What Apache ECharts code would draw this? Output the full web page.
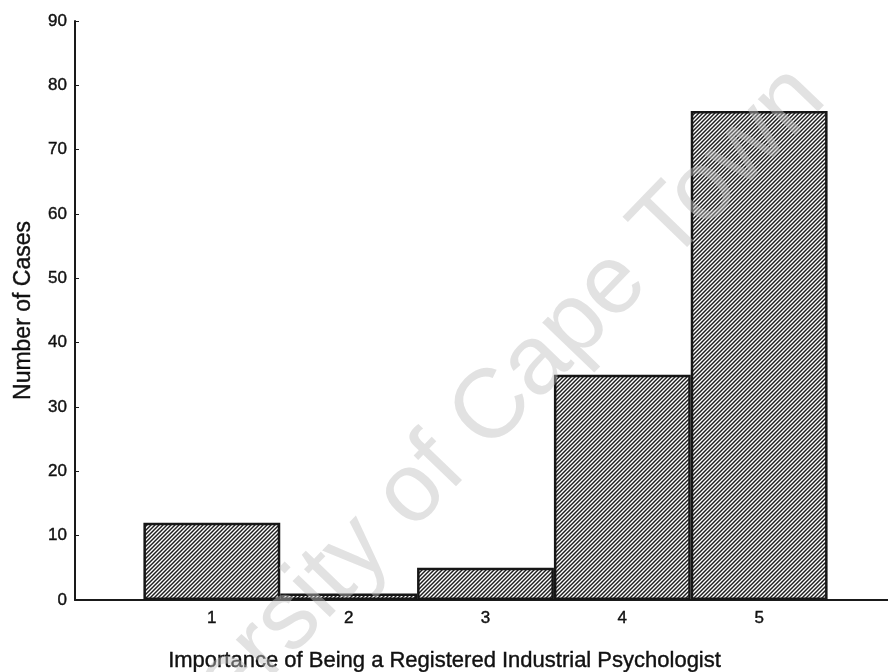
<!DOCTYPE html>
<html>
<head>
<meta charset="utf-8">
<script src="https://cdn.jsdelivr.net/npm/echarts@6/dist/echarts.min.js"></script>
<style>
html,body{margin:0;padding:0;background:#fff;}
#chart{width:888px;height:672px;}
</style>
</head>
<body>
<div id="chart"></div>
<script>
// Data
var categories = ['1', '2', '3', '4', '5'];
var counts = [12, 1, 5, 35, 76];
var yTicks = [0, 10, 20, 30, 40, 50, 60, 70, 80, 90];
var xTitle = 'Importance of Being a Registered Industrial Psychologist';
var yTitle = 'Number of Cases';
var watermark = 'University of Cape Town';

// padded axis: empty slot at each end so bars sit at 1..5 on a 0..6 scale
var axisCats = [''].concat(categories).concat(['']);
var seriesData = ['-'].concat(counts).concat(['-']);

function hatch() {
  var c = document.createElement('canvas');
  c.width = 4; c.height = 4;
  var g = c.getContext('2d');
  g.fillStyle = '#ffffff';
  g.fillRect(0, 0, 4, 4);
  g.strokeStyle = '#1e1e1e';
  g.lineWidth = 1.45;
  g.beginPath();
  g.moveTo(-1, 5); g.lineTo(5, -1);
  g.moveTo(-1, 1); g.lineTo(1, -1);
  g.moveTo(3, 5); g.lineTo(5, 3);
  g.stroke();
  return c;
}

var chart = echarts.init(document.getElementById('chart'), null, {renderer: 'canvas'});
var font = 'Liberation Sans, Arial, sans-serif';
var ink = '#111111';
chart.setOption({
  animation: false,
  backgroundColor: '#ffffff',
  grid: {left: 75, right: -8, top: 21, bottom: 72, containLabel: false, outerBoundsMode: 'none'},
  xAxis: {
    type: 'category',
    data: axisCats,
    boundaryGap: false,
    name: xTitle,
    nameLocation: 'middle',
    nameGap: 50,
    nameTextStyle: {fontFamily: font, fontSize: 22, color: ink,
      textBorderColor: ink, textBorderWidth: 0.4, padding: [0, 82, 0, 0]},
    axisLine: {lineStyle: {color: '#1a1a1a', width: 2}},
    axisTick: {inside: true, length: 4, lineStyle: {color: '#1a1a1a'},
      interval: function (i) { return i > 0 && i < axisCats.length - 1; }},
    axisLabel: {fontFamily: font, fontSize: 17, color: ink, margin: 10,
      textBorderColor: ink, textBorderWidth: 0.4, interval: 0},
    splitLine: {show: false}
  },
  yAxis: {
    type: 'value',
    min: yTicks[0],
    max: yTicks[yTicks.length - 1],
    interval: yTicks[1] - yTicks[0],
    name: yTitle,
    nameLocation: 'middle',
    nameGap: 40,
    nameTextStyle: {fontFamily: font, fontSize: 23, color: ink,
      textBorderColor: ink, textBorderWidth: 0.4},
    axisLine: {show: true, lineStyle: {color: '#1a1a1a', width: 2}},
    axisTick: {show: true, inside: true, length: 4, lineStyle: {color: '#1a1a1a'}},
    axisLabel: {fontFamily: font, fontSize: 17, color: ink, margin: 8,
      textBorderColor: ink, textBorderWidth: 0.4},
    splitLine: {show: false}
  },
  series: [{
    type: 'bar',
    data: seriesData,
    barCategoryGap: '0%',
    barWidth: '100%',
    itemStyle: {
      color: {image: hatch(), repeat: 'repeat'},
      borderColor: '#161616',
      borderWidth: 2.5
    },
    z: 2
  }],
  graphic: [{
    type: 'text',
    z: 100,
    silent: true,
    x: 442, y: 462,
    rotation: 46 * Math.PI / 180,
    style: {
      text: watermark,
      font: '98px ' + font,
      fill: 'rgba(190,190,190,0.45)',
      align: 'center',
      verticalAlign: 'middle'
    }
  }]
});
</script>
</body>
</html>
